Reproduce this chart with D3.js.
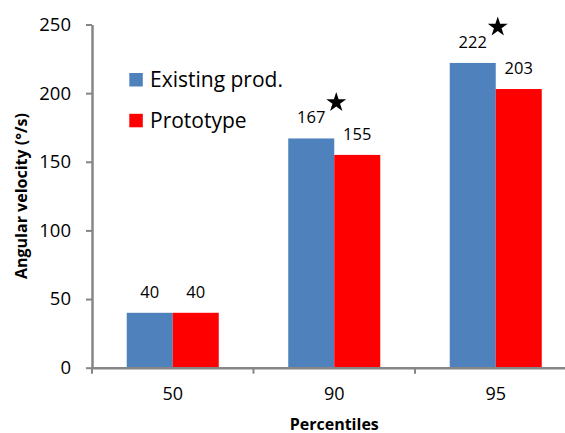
<!DOCTYPE html>
<html><head><meta charset="utf-8">
<script src="https://cdn.jsdelivr.net/npm/d3@7"></script>
<style>
html,body{margin:0;padding:0;background:#fff;}
svg{display:block;font-family:"Open Sans",sans-serif;}
</style></head>
<body>
<svg id="chart" width="565" height="433"></svg>
<script>
const categories = ["50", "90", "95"];
const seriesNames = ["Existing prod.", "Prototype"];
const existing = [40, 167, 222];
const prototype = [40, 155, 203];
const starred = [false, true, true];
const yTicks = [0, 50, 100, 150, 200, 250];
const colors = ["#4F81BD", "#FF0000"];

const svg = d3.select("#chart");
const x0 = d3.scaleBand().domain(categories).range([92, 576.5]).paddingInner(0).paddingOuter(0);
const x1 = d3.scaleBand().domain(seriesNames).range([0, x0.bandwidth()]).paddingInner(0).paddingOuter(0.755);
const y = d3.scaleLinear().domain([0, 250]).range([367.7, 24.5]);
const color = d3.scaleOrdinal().domain(seriesNames).range(colors);

const rows = categories.map((c, i) => ({cat: c, vals: [existing[i], prototype[i]], star: starred[i]}));

// bars
const g = svg.append("g");
rows.forEach(r => {
  seriesNames.forEach((s, j) => {
    const v = r.vals[j];
    g.append("rect")
      .attr("x", x0(r.cat) + x1(s))
      .attr("y", y(v))
      .attr("width", x1.bandwidth())
      .attr("height", y(0) - y(v))
      .attr("fill", color(s));
    g.append("text")
      .attr("x", x0(r.cat) + x1(s) + x1.bandwidth() / 2)
      .attr("y", y(v) - 15)
      .attr("text-anchor", "middle")
      .attr("font-size", 16.5)
      .attr("fill", "#000")
      .text(v);
  });
  if (r.star) {
    svg.append("path")
      .attr("d", d3.symbol(d3.symbolStar, 124)())
      .attr("transform", `translate(${x0(r.cat) + x0.bandwidth() / 2 + 2},${y(r.vals[0]) - 36})`)
      .attr("fill", "#000");
  }
});

// y axis
const yAxis = svg.append("g").attr("transform", `translate(${x0.range()[0]},0)`)
  .call(d3.axisLeft(y).tickValues(yTicks).tickSizeInner(6).tickSizeOuter(0).tickPadding(15));
yAxis.select(".domain").attr("stroke", "#868686").attr("stroke-width", 2.5);
yAxis.selectAll(".tick line").attr("stroke", "#868686").attr("stroke-width", 2);
yAxis.selectAll(".tick text").attr("font-size", 18.5).attr("fill", "#000").attr("font-family", "Open Sans");

// x axis
const xAxis = svg.append("g").attr("transform", `translate(0,${y(0)})`)
  .call(d3.axisBottom(x0).tickSizeInner(0).tickSizeOuter(0).tickPadding(20));
xAxis.select(".domain").attr("stroke", "#868686").attr("stroke-width", 2.5);
xAxis.selectAll(".tick text").attr("font-size", 18).attr("fill", "#000").attr("font-family", "Open Sans");
const bounds = categories.map(c => x0(c)).concat([x0.range()[1]]);
xAxis.selectAll("line.bound").data(bounds).enter().append("line")
  .attr("class", "bound")
  .attr("x1", d => d).attr("x2", d => d)
  .attr("y1", 0).attr("y2", 6)
  .attr("stroke", "#868686").attr("stroke-width", 2);

// axis titles
svg.append("text")
  .attr("transform", `translate(27,196) rotate(-90)`)
  .attr("text-anchor", "middle")
  .attr("font-size", 16)
  .attr("font-weight", "bold")
  .text("Angular velocity (°/s)");
svg.append("text")
  .attr("x", (x0.range()[0] + x0.range()[1]) / 2)
  .attr("y", 429.5)
  .attr("text-anchor", "middle")
  .attr("font-size", 16)
  .attr("font-weight", "bold")
  .text("Percentiles");

// legend
const legend = svg.append("g");
seriesNames.forEach((s, i) => {
  const ly = 86.7 + i * 40.8;
  legend.append("rect").attr("x", 129.3).attr("y", ly - 13.7).attr("width", 13.5).attr("height", 13.5).attr("fill", color(s));
  legend.append("text").attr("x", 150).attr("y", ly).attr("font-size", 21).attr("fill", "#000").text(s);
});
</script>
</body></html>
